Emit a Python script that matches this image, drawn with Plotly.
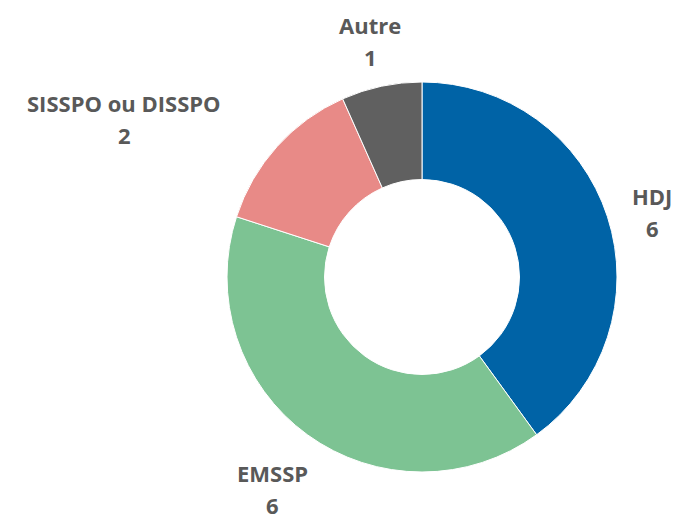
import plotly.graph_objects as go

labels = ["HDJ", "EMSSP", "SISSPO ou DISSPO", "Autre"]
values = [6, 6, 2, 1]
colors = ["#0063A6", "#7DC393", "#E88A87", "#606060"]

W, H = 687, 520
OFF = 8  # page body margin offset
cx, cy, r = 422 - OFF, 277 - OFF, 195

fig = go.Figure(go.Pie(
    labels=labels, values=values, sort=False, direction="clockwise", rotation=0,
    hole=0.5, textinfo="none", hoverinfo="label+value",
    marker=dict(colors=colors, line=dict(color="white", width=1)),
    domain=dict(x=[(cx - r) / W, (cx + r) / W], y=[1 - (cy + r) / H, 1 - (cy - r) / H]),
    showlegend=False,
))

# label placement (pixel centres of name line)
label_pos = {"HDJ": (652, 196), "EMSSP": (272, 473), "SISSPO ou DISSPO": (124, 103), "Autre": (370, 25)}
font = dict(family="Open Sans", size=22, color="#595959")
for lab, val in zip(labels, values):
    x, y = label_pos[lab]
    x -= OFF
    y -= OFF
    fig.add_annotation(x=x / W, y=1 - y / H, xref="paper", yref="paper", text=f"<b>{lab}</b>",
                       showarrow=False, font=font, xanchor="center", yanchor="middle")
    fig.add_annotation(x=x / W, y=1 - (y + 32) / H, xref="paper", yref="paper", text=f"<b>{val}</b>",
                       showarrow=False, font=font, xanchor="center", yanchor="middle")

fig.update_layout(width=W, height=H, margin=dict(l=0, r=0, t=0, b=0),
                  paper_bgcolor="white", plot_bgcolor="white")
fig.write_html("out.html")
